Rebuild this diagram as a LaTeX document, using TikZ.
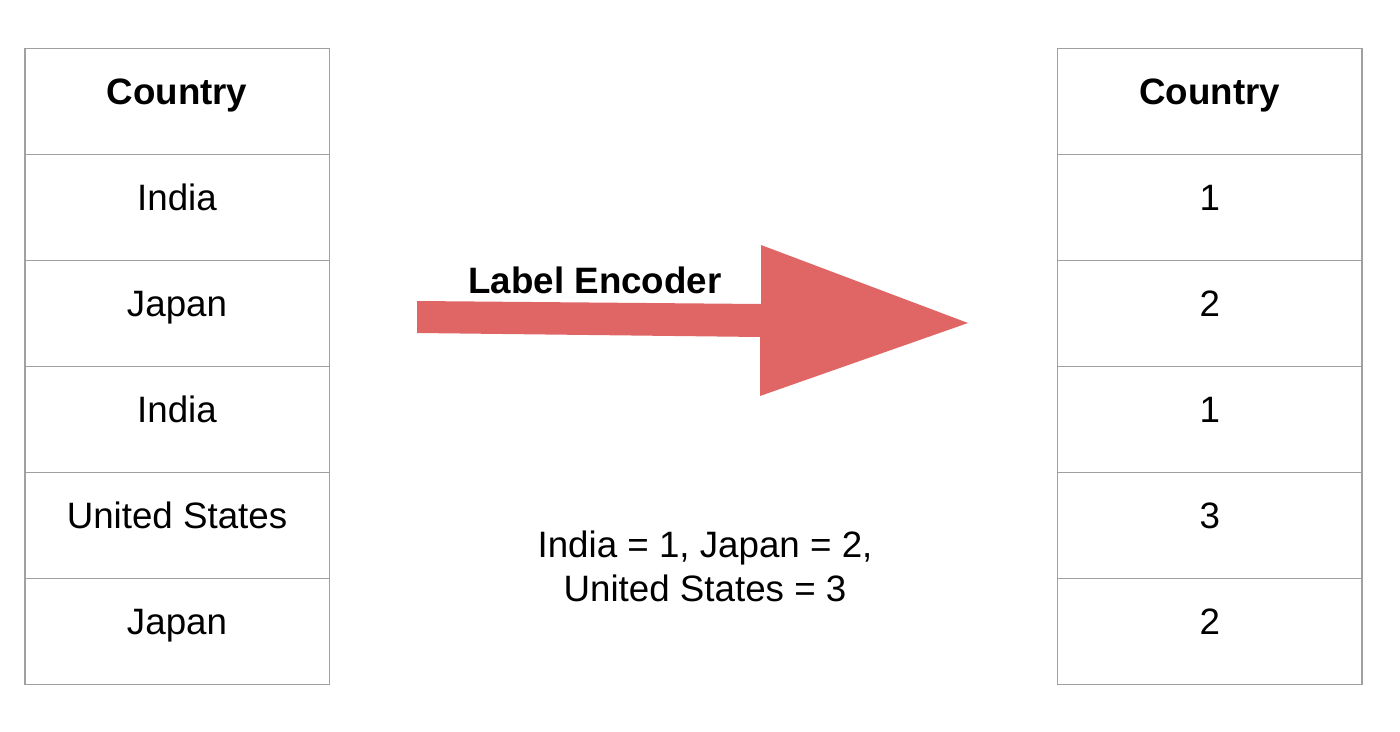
\documentclass[tikz,border=0pt]{standalone}
\usepackage{fontspec}
\setmainfont{Liberation Sans}
\definecolor{cellgray}{HTML}{A0A0A0}
\definecolor{arrowred}{HTML}{E06666}
\newcommand{\cellfont}{\fontsize{20.9pt}{24.5pt}\selectfont}
\tikzset{cell/.style={draw=cellgray,line width=0.03cm,minimum width=6.09cm,minimum height=2.12cm,inner sep=0pt,text height=0.55cm,text depth=0.43cm,font=\cellfont}}
\begin{document}
\begin{tikzpicture}
        \useasboundingbox (0,0) rectangle (28,-14.64);
        % left table
        \node[cell,font=\cellfont\bfseries] (lhead) at (3.54,-2.03) {Country} ;
        \node[cell] (lrow1) at (3.54,-4.15) {India} ;
        \node[cell] (lrow2) at (3.54,-6.27) {Japan} ;
        \node[cell] (lrow3) at (3.54,-8.39) {India} ;
        \node[cell] (lrow4) at (3.54,-10.51) {United States} ;
        \node[cell] (lrow5) at (3.54,-12.63) {Japan} ;
        % right table
        \node[cell,font=\cellfont\bfseries] (rhead) at (24.195,-2.03) {Country} ;
        \node[cell] (rrow1) at (24.195,-4.15) {1} ;
        \node[cell] (rrow2) at (24.195,-6.27) {2} ;
        \node[cell] (rrow3) at (24.195,-8.39) {1} ;
        \node[cell] (rrow4) at (24.195,-10.51) {3} ;
        \node[cell] (rrow5) at (24.195,-12.63) {2} ;
        % block arrow
        \fill[arrowred] (8.34,-6.02) -- (15.22,-6.08) -- (15.22,-4.90) -- (19.36,-6.46) -- (15.20,-7.92) -- (15.20,-6.74) -- (8.34,-6.66) -- cycle;
        \node[font=\cellfont\bfseries,anchor=base,inner sep=0pt] (enc) at (11.9,-5.88) {Label Encoder} ;
        \node[font=\cellfont,align=center,anchor=base,inner sep=0pt] (map) at (14.1,-12.02) {India = 1, Japan = 2,\\ United States = 3} ;
      \end{tikzpicture}
\end{document}
